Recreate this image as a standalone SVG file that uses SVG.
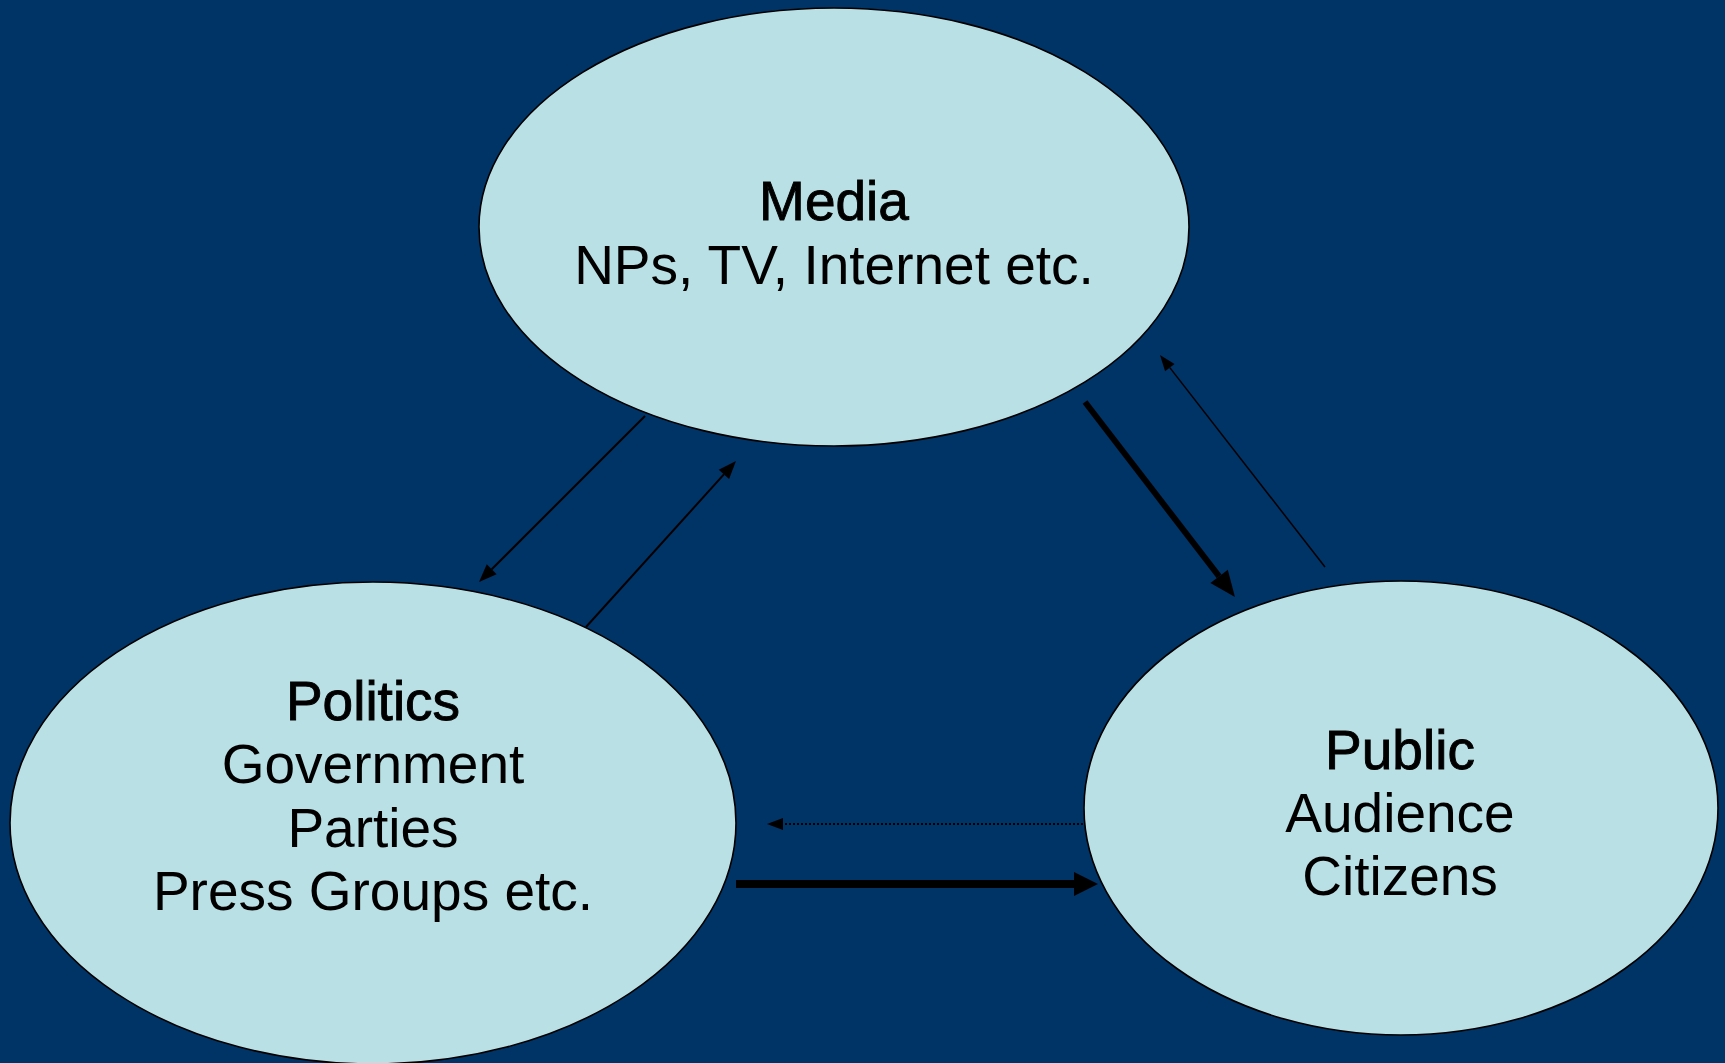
<svg xmlns="http://www.w3.org/2000/svg" width="1725" height="1063" viewBox="0 0 1725 1063">
  <style>
    .node { fill: #b9e0e4; stroke: #000; stroke-width: 1.6; }
    .lbl { font-family: "Liberation Sans", Arial, sans-serif; font-size: 55px; fill: #000; text-anchor: middle; }
    .ttl { stroke: #000; stroke-width: 0.9; }
    .link { stroke: #000; fill: none; }
  </style>
  <defs>
    <marker id="head-s" markerUnits="userSpaceOnUse" orient="auto" markerWidth="18" markerHeight="14" refX="0" refY="7" overflow="visible">
      <path d="M0,0 L18,7 L0,14 z" fill="#000"/>
    </marker>
    <marker id="head-xs" markerUnits="userSpaceOnUse" orient="auto" markerWidth="16" markerHeight="12" refX="0" refY="6" overflow="visible">
      <path d="M0,0 L16,6 L0,12 z" fill="#000"/>
    </marker>
    <marker id="head-m" markerUnits="userSpaceOnUse" orient="auto" markerWidth="26" markerHeight="22" refX="0" refY="11" overflow="visible">
      <path d="M0,0 L26,11 L0,22 z" fill="#000"/>
    </marker>
    <marker id="head-l" markerUnits="userSpaceOnUse" orient="auto" markerWidth="24" markerHeight="24" refX="0" refY="12" overflow="visible">
      <path d="M0,0 L24,12 L0,24 z" fill="#000"/>
    </marker>
  </defs>

  <rect x="0" y="0" width="1725" height="1063" fill="#003366"/>

  <g id="media">
    <ellipse class="node" cx="834" cy="227" rx="355" ry="219"/>
    <text class="lbl ttl" x="834" y="220">Media</text>
    <text class="lbl" x="834" y="284">NPs, TV, Internet etc.</text>
  </g>

  <g id="politics">
    <ellipse class="node" cx="373" cy="823" rx="363" ry="241"/>
    <text class="lbl ttl" x="373" y="720">Politics</text>
    <text class="lbl" x="373" y="783">Government</text>
    <text class="lbl" x="373" y="847">Parties</text>
    <text class="lbl" x="373" y="910">Press Groups etc.</text>
  </g>

  <g id="public">
    <ellipse class="node" cx="1401" cy="808" rx="317" ry="227"/>
    <text class="lbl ttl" x="1400" y="769">Public</text>
    <text class="lbl" x="1400" y="832">Audience</text>
    <text class="lbl" x="1400" y="895">Citizens</text>
  </g>

  <g id="connectors">
    <!-- media to politics -->
    <line class="link" x1="645" y1="416" x2="491.7" y2="569.3" stroke-width="2" marker-end="url(#head-s)"/>
    <!-- politics to media -->
    <line class="link" x1="586" y1="627" x2="723.9" y2="474.4" stroke-width="2" marker-end="url(#head-s)"/>
    <!-- media to public (strong) -->
    <line class="link" x1="1085" y1="402" x2="1219.1" y2="576.4" stroke-width="6" marker-end="url(#head-m)"/>
    <!-- public to media (weak) -->
    <line class="link" x1="1325" y1="567" x2="1169.8" y2="367.6" stroke-width="1.5" marker-end="url(#head-xs)"/>
    <!-- public to politics (dotted) -->
    <line class="link" x1="1083" y1="824" x2="783" y2="824" stroke-width="2" stroke-dasharray="2 2" marker-end="url(#head-xs)"/>
    <!-- politics to public (strong) -->
    <line class="link" x1="736" y1="884" x2="1074" y2="884" stroke-width="8" marker-end="url(#head-l)"/>
  </g>
</svg>
